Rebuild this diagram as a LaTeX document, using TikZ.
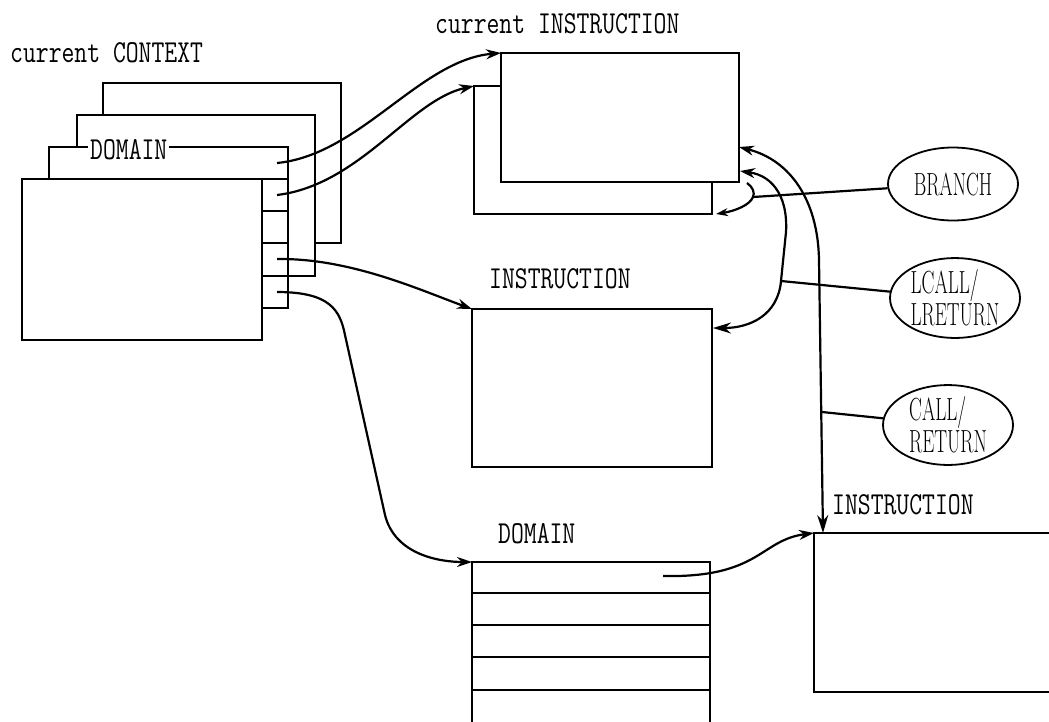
\documentclass[tikz,border=0pt]{standalone}
\usepackage{fontspec}
\usepackage{graphicx}
\usetikzlibrary{arrows.meta,shapes.geometric}

\newcommand{\cnd}[1]{\scalebox{0.78}[1]{#1}}
\newcommand{\enr}[1]{\scalebox{0.6}[1]{#1}}

\tikzset{
  box/.style={draw, fill=white, line width=1.5pt, anchor=north west, inner sep=0pt, outer sep=0pt},
  lbl/.style={font=\ttfamily\fontsize{32}{32}\selectfont, inner sep=0pt, anchor=base west},
  op/.style={ellipse, draw, line width=1.8pt, inner sep=0pt, minimum width=130, minimum height=73, align=left, font=\rmfamily\fontsize{32}{32}\selectfont},
  arr/.style={line width=2.2pt, -{Stealth[length=15pt,width=10pt]}},
  twoway/.style={line width=2.2pt, {Stealth[length=15pt,width=10pt]}-{Stealth[length=18pt,width=11pt]}},
  link/.style={line width=2.2pt},
}

\begin{document}
\begin{tikzpicture}[x=1pt, y=-1pt]
	\useasboundingbox (0,0) rectangle (1049,721);

	% context stack
	\node (ctx4) [box, minimum width=238, minimum height=160] at (103,83) {};
	\node (ctx3) [box, minimum width=238, minimum height=161] at (77,115) {};
	\node (ctx2) [box, minimum width=239, minimum height=161] at (49,147) {};
	\node (ctx1) [box, minimum width=240, minimum height=161] at (22,179) {};
	\foreach \y in {179,211,243,276}
		\draw[line width=1.5pt] (262,\y) -- (288,\y);
	\node (dlab) [lbl, fill=white, inner xsep=2pt] at (88,159) {\cnd{DOMAIN}};
	\node (ctxlbl) [lbl] at (10,62) {\cnd{current CONTEXT}};

	\coordinate (p1) at (277,163);
	\coordinate (p2) at (277,195);
	\coordinate (p4) at (277,259);
	\coordinate (p5) at (277,292);

	% instructions and domain
	\node (cib) [box, minimum width=238, minimum height=128] at (474,86) {};
	\node (ci) [box, minimum width=238, minimum height=129] at (501,53) {};
	\node (mi) [box, minimum width=240, minimum height=158] at (472,309) {};
	\node (dom) [box, minimum width=238, minimum height=180] at (472,562) {};
	\foreach \y in {593,625,657,690}
		\draw[line width=1.5pt] (472,\y) -- (710,\y);
	\node (li) [box, minimum width=260, minimum height=159] at (814,533) {};

	\node (cilbl) [lbl] at (435,33) {\cnd{current INSTRUCTION}};
	\node (milbl) [lbl] at (489,288) {\cnd{INSTRUCTION}};
	\node (domlbl) [lbl] at (498,543) {\cnd{DOMAIN}};
	\node (lilbl) [lbl] at (832,514) {\cnd{INSTRUCTION}};

	% operations
	\node (br) [op] at (953,184) {\enr{BRANCH}};
	\node (lc) [op] at (955,298) {\enr{LCALL/}\\\enr{LRETURN}};
	\node (cr) [op] at (948,425) {\enr{CALL/}\\\enr{RETURN}};

	% pointers
	\draw[arr] (p1) .. controls (360,155) and (420,60) .. (ci.north west);
	\draw[arr] (p2) .. controls (360,185) and (410,100) .. (cib.north west);
	\draw[arr] (p4) .. controls (350,258) and (420,290) .. (mi.north west);
	\draw[arr] (p5) .. controls (330,292) and (340,310) .. (345,335) -- (385,515)
		.. controls (395,555) and (440,562) .. (dom.north west);
	\coordinate (dp) at (663,576);
	\draw[arr] (dp) .. controls (760,578) and (760,540) .. (li.north west);

	% transfers
	\coordinate (ca) at (739,147);
	\draw[twoway] (ca) .. controls (790,160) and (818,200) .. (819,260)
		-- ([xshift=9pt]li.north west);
	\coordinate (la) at (740,171);
	\coordinate (lb) at (713,328);
	\draw[twoway] (la) .. controls (775,176) and (788,200) .. (786,232) -- (781,281)
		.. controls (778,315) and (750,328) .. (lb);
	\coordinate (ba) at (747,183);
	\coordinate (bj) at (753,197);
	\coordinate (bb) at (716,214);
	\draw[line width=2.2pt, -{Stealth[length=12pt,width=8pt]}] (ba) .. controls (753,187) and (755,193) .. (bj)
		.. controls (750,205) and (735,211) .. (bb);

	\coordinate (lj) at (781,281);
	\coordinate (cj) at (822,412);
	\draw[link] (bj) -- (br);
	\draw[link] (lj) -- (lc);
	\draw[link] (cj) -- (cr);

\end{tikzpicture}
\end{document}
